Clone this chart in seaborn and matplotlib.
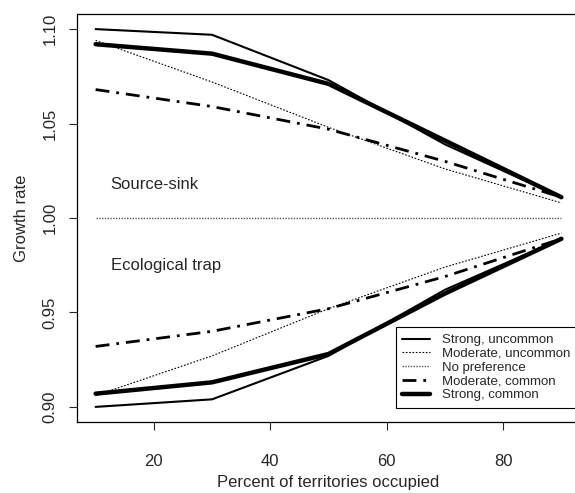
import matplotlib
matplotlib.use("Agg")
import matplotlib.pyplot as plt
import seaborn as sns
import pandas as pd
from matplotlib.lines import Line2D

# ---- data ----
occupied = [10, 30, 50, 70, 90]

strong_uncommon_src = [1.100, 1.097, 1.073, 1.039, 1.011]
strong_uncommon_trap = [0.900, 0.904, 0.927, 0.962, 0.989]

moderate_uncommon_src = [1.094, 1.072, 1.048, 1.026, 1.008]
moderate_uncommon_trap = [0.906, 0.927, 0.952, 0.974, 0.992]

no_preference = [1.000, 1.000, 1.000, 1.000, 1.000]

moderate_common_src = [1.068, 1.059, 1.047, 1.030, 1.011]
moderate_common_trap = [0.932, 0.940, 0.952, 0.969, 0.989]

strong_common_src = [1.092, 1.087, 1.071, 1.041, 1.011]
strong_common_trap = [0.907, 0.913, 0.928, 0.960, 0.989]

series_names = ["Strong, uncommon", "Moderate, uncommon", "No preference",
                "Moderate, common", "Strong, common"]
x_ticks = [20, 40, 60, 80]
y_ticks = [0.90, 0.95, 1.00, 1.05, 1.10]

# ---- build long-form table ----
rows = []
branches = {
    "Strong, uncommon": [strong_uncommon_src, strong_uncommon_trap],
    "Moderate, uncommon": [moderate_uncommon_src, moderate_uncommon_trap],
    "No preference": [no_preference],
    "Moderate, common": [moderate_common_src, moderate_common_trap],
    "Strong, common": [strong_common_src, strong_common_trap],
}
for name, brs in branches.items():
    for bi, vals in enumerate(brs):
        for xv, yv in zip(occupied, vals):
            rows.append({"series": name, "branch": bi, "x": xv, "y": yv})
df = pd.DataFrame(rows)

styles = {
    "Strong, uncommon": dict(color="black", lw=1.5, ls="-"),
    "Moderate, uncommon": dict(color="black", lw=0.8, ls=(0, (1.5, 1.5))),
    "No preference": dict(color="#555555", lw=1.0, ls=(0, (1, 1))),
    "Moderate, common": dict(color="black", lw=2.0, ls=(0, (5, 2.5, 1, 2.5))),
    "Strong, common": dict(color="black", lw=3.2, ls="-"),
}

sns.set_style("ticks")
plt.rcParams["font.family"] = ["Liberation Sans", "DejaVu Sans"]

fig = plt.figure(figsize=(5.75, 4.93), dpi=100)
ax = fig.add_axes([77 / 575, 1 - 422 / 493, (580 - 77) / 575, (422 - 14) / 493])

for name in series_names:
    st = styles[name]
    sub = df[df["series"] == name]
    sns.lineplot(data=sub, x="x", y="y", units="branch", estimator=None,
                 color=st["color"], linewidth=st["lw"], linestyle=st["ls"],
                 ax=ax, legend=False, solid_joinstyle="round")

ax.set_xlim(6.8, 93.2)
ax.set_ylim(0.892, 1.108)
ax.set_xticks(x_ticks)
ax.set_yticks(y_ticks)
ax.set_yticklabels([f"{v:.2f}" for v in y_ticks], rotation=90, va="center")
ax.tick_params(axis="x", direction="out", length=6, width=0.8, labelsize=12, pad=17)
ax.tick_params(axis="y", direction="out", length=6, width=0.8, labelsize=12, pad=8)
for sp in ax.spines.values():
    sp.set_visible(True)
    sp.set_linewidth(0.9)
    sp.set_color("black")

ax.set_xlabel("Percent of territories occupied", fontsize=12, labelpad=4)
ax.set_ylabel("Growth rate", fontsize=12, labelpad=10)

ax.text(12.6, 1.0175, "Source-sink", fontsize=12, va="center", ha="left")
ax.text(12.6, 0.975, "Ecological trap", fontsize=12, va="center", ha="left")

handles = [Line2D([0], [0], color=styles[n]["color"], lw=styles[n]["lw"],
                  ls=styles[n]["ls"]) for n in series_names]
leg = ax.legend(handles, series_names, loc="upper left",
                bbox_to_anchor=(0.634, 0.232), fontsize=9.5, frameon=True,
                fancybox=False, edgecolor="black", framealpha=1,
                borderaxespad=0, handlelength=2.1, handletextpad=0.9,
                labelspacing=0.12, borderpad=0.5)
leg.get_frame().set_linewidth(0.8)

fig.savefig("out.png", dpi=100)
